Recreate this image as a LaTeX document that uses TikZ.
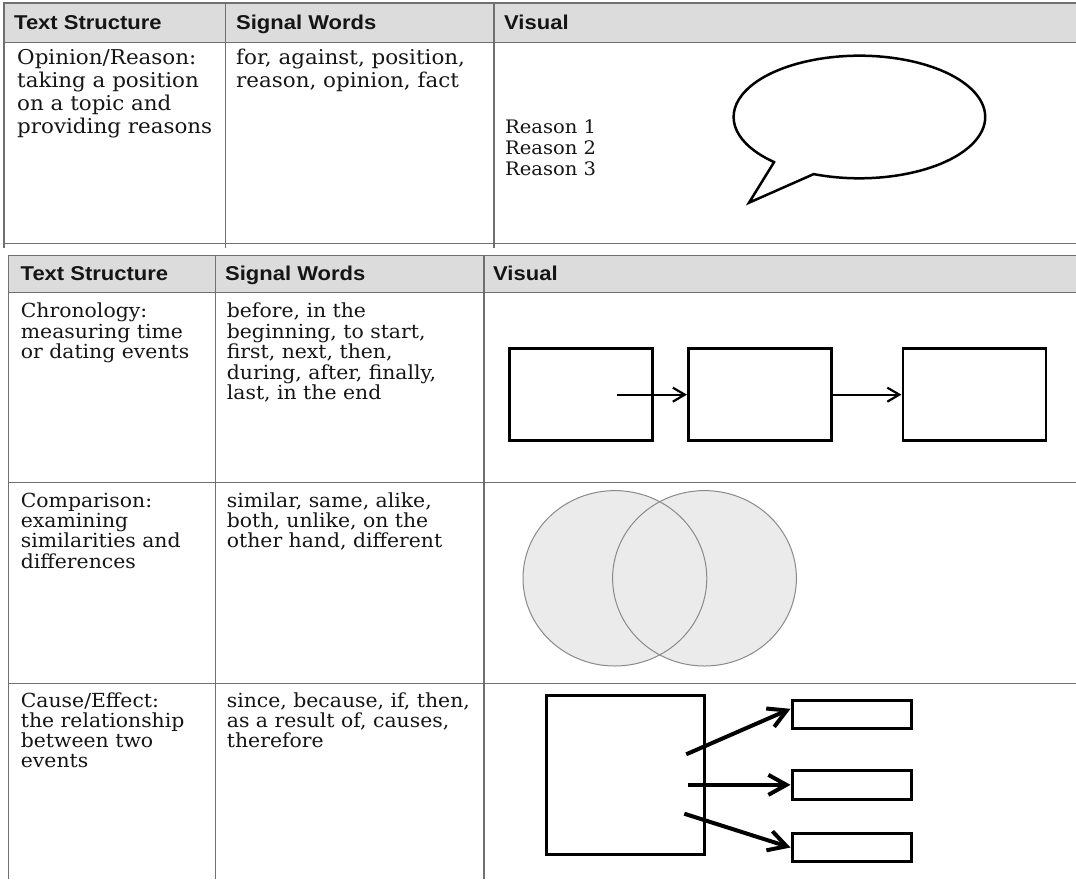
\documentclass[tikz,border=0pt]{standalone}
\usepackage{fontspec}
\usetikzlibrary{arrows.meta}
\newfontfamily\bodyserif[FakeStretch=1.05]{DejaVu Serif}
\newfontfamily\headsans[FakeStretch=1.1]{Liberation Sans}
\definecolor{hdrgray}{HTML}{DCDCDC}
\definecolor{rulegray}{HTML}{707070}
\definecolor{venngray}{HTML}{EBEBEB}
\definecolor{vennline}{HTML}{8A8A8A}
\definecolor{txt}{HTML}{151515}
\tikzset{
  rule/.style={draw=rulegray, line width=1.2pt},
  hdr/.style={anchor=base west, inner sep=0pt, text=txt, font=\headsans\bfseries\fontsize{20}{22}\selectfont},
  celltop/.style={anchor=base west, inner sep=0pt, text=txt, font=\bodyserif\fontsize{20.4}{23}\selectfont},
  cellbot/.style={anchor=base west, inner sep=0pt, text=txt, font=\bodyserif\fontsize{19.4}{20.5}\selectfont},
  reasontxt/.style={anchor=base west, inner sep=0pt, text=txt, font=\bodyserif\fontsize{18.6}{21}\selectfont},
  chrbox/.style={draw=black, line width=2.5pt, inner sep=0pt, minimum width=143pt, minimum height=92pt},
  chrarrow/.style={draw=black, line width=2.2pt, -{Straight Barb[length=12pt,width=14pt]}},
  cebox/.style={draw=black, line width=3pt, inner sep=0pt},
  cearrow/.style={draw=black, line width=4pt, -{Straight Barb[length=18pt,width=20pt]}},
  vennfill/.style={fill=venngray},
  vennedge/.style={draw=vennline, line width=1pt},
  bubble/.style={draw=black, line width=2.5pt, fill=white, line join=miter},
}
\begin{document}
\begin{tikzpicture}[x=1pt,y=-1pt]
\useasboundingbox[fill=white] (0,0) rectangle (1076,879);

% ---------- top table ----------
\fill[hdrgray] (4,3) rectangle (1076,42.3);
\draw[rule] (1076,3) -- (4,3) -- (4,248);
\draw[rule] (4,42.3) -- (1076,42.3);
\draw[rule] (4,243.5) -- (1076,243.5);
\draw[rule] (225.5,3) -- (225.5,248);
\draw[rule] (494,3) -- (494,248);

\node[hdr] (tah1) at (14,29) {Text Structure};
\node[hdr] (tah2) at (236,29) {Signal Words};
\node[hdr] (tah3) at (504,29) {Visual};

\foreach \t [count=\i] in {{Opinion/Reason:},{taking a position},{on a topic and},{providing reasons}}
  \node[celltop] (opl\i) at (17,{64+23.3*(\i-1)}) {\t};
\foreach \t [count=\i] in {{for, against, position,},{reason, opinion, fact}}
  \node[celltop] (osw\i) at (236,{64+23.3*(\i-1)}) {\t};
\foreach \t [count=\i] in {{Reason 1},{Reason 2},{Reason 3}}
  \node[reasontxt] (rsn\i) at (505,{133.5+21.2*(\i-1)}) {\t};

% speech bubble
\draw[bubble] (774.1,162.05) -- (749,202.7) -- (813.7,174.1)
  arc[start angle=111.3, end angle=-227.3, x radius=125.8, y radius=61.3] -- cycle;

% ---------- bottom table ----------
\fill[hdrgray] (8.6,255.7) rectangle (1076,292.3);
\draw[rule] (1076,255.7) -- (8.6,255.7) -- (8.6,879);
\draw[rule] (8.6,292.3) -- (1076,292.3);
\draw[rule] (8.6,482.7) -- (1076,482.7);
\draw[rule] (8.6,683.3) -- (1076,683.3);
\draw[rule] (215.2,255.7) -- (215.2,879);
\draw[rule] (484,255.7) -- (484,879);

\node[hdr] (tbh1) at (20.5,280.5) {Text Structure};
\node[hdr] (tbh2) at (225,280.5) {Signal Words};
\node[hdr] (tbh3) at (493,280.5) {Visual};

% chronology row
\foreach \t [count=\i] in {{Chronology:},{measuring time},{or dating events}}
  \node[cellbot] (chl\i) at (20.7,{317.5+20.5*(\i-1)}) {\t};
\foreach \t [count=\i] in {{before, in the},{beginning, to start,},{first, next, then,},{during, after, finally,},{last, in the end}}
  \node[cellbot] (chw\i) at (226.7,{317.5+20.5*(\i-1)}) {\t};

\node[chrbox] (cb1) at (581,394.65) {};
\node[chrbox] (cb2) at (759.75,394.65) {};
\node[chrbox] (cb3) at (974.25,394.65) {};
\coordinate (cbstart) at (617,394.65);
\draw[chrarrow] (cbstart) -- (cb2.west);
\draw[chrarrow] (cb2.east) -- (cb3.west);

% comparison row
\foreach \t [count=\i] in {{Comparison:},{examining},{similarities and},{differences}}
  \node[cellbot] (cml\i) at (20.7,{507.5+20.2*(\i-1)}) {\t};
\foreach \t [count=\i] in {{similar, same, alike,},{both, unlike, on the},{other hand, different}}
  \node[cellbot] (cmw\i) at (226.7,{507.5+20.2*(\i-1)}) {\t};

\fill[vennfill] (614.9,578.3) ellipse [x radius=91.9, y radius=87.7];
\fill[vennfill] (704.5,578.3) ellipse [x radius=91.9, y radius=87.7];
\draw[vennedge] (614.9,578.3) ellipse [x radius=91.9, y radius=87.7];
\draw[vennedge] (704.5,578.3) ellipse [x radius=91.9, y radius=87.7];

% cause/effect row
\foreach \t [count=\i] in {{Cause/Effect:},{the relationship},{between two},{events}}
  \node[cellbot] (cel\i) at (20.7,{707+20.3*(\i-1)}) {\t};
\foreach \t [count=\i] in {{since, because, if, then,},{as a result of, causes,},{therefore}}
  \node[cellbot] (cew\i) at (226.7,{707+20.3*(\i-1)}) {\t};

\node[cebox, minimum width=158pt, minimum height=159pt] (cause) at (625.85,775.35) {};
\node[cebox, minimum width=119pt, minimum height=28.3pt] (eff1) at (851.5,714.15) {};
\node[cebox, minimum width=119pt, minimum height=28.3pt] (eff2) at (851.5,784.85) {};
\node[cebox, minimum width=119pt, minimum height=28.3pt] (eff3) at (851.5,847.5) {};
\coordinate (cs1) at (686.2,754.3);
\coordinate (cs2) at (688,784.85);
\coordinate (cs3) at (684.3,813.7);
\draw[cearrow] (cs1) -- (eff1.175);
\draw[cearrow] (cs2) -- (eff2.west);
\draw[cearrow] (cs3) -- (eff3.west);
\end{tikzpicture}
\end{document}
